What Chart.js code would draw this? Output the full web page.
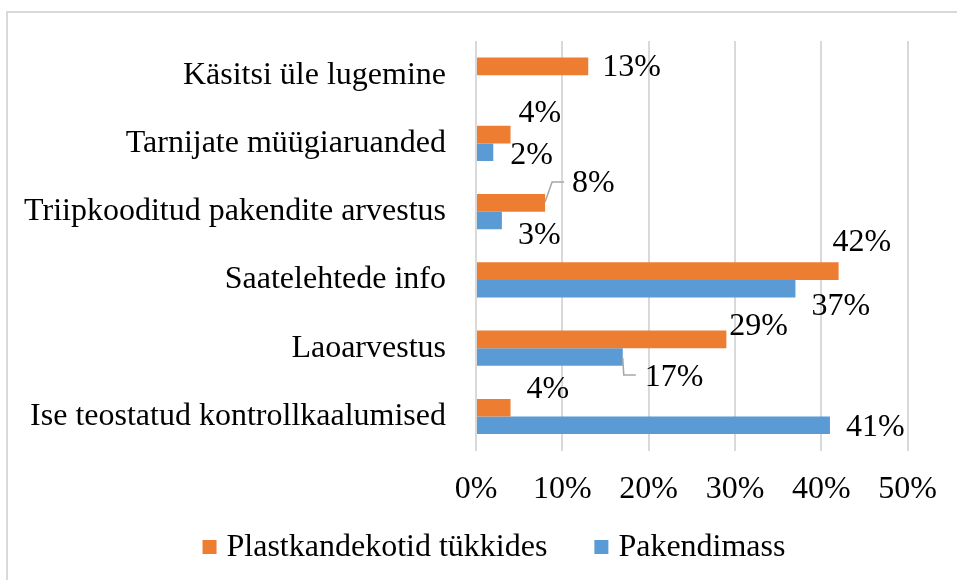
<!DOCTYPE html>
<html>
<head>
<meta charset="utf-8">
<script src="https://cdn.jsdelivr.net/npm/chart.js@4/dist/chart.umd.min.js"></script>
<style>
  html, body { margin: 0; padding: 0; background: #fff; }
  #wrap { position: relative; width: 957px; height: 580px; overflow: hidden; }
  #frame { position: absolute; left: 6px; top: 11px; width: 1000px; height: 700px; border: 2px solid #d9d9d9; }
  #chart { position: absolute; left: 0; top: 0; }
</style>
</head>
<body>
<div id="wrap">
  <div id="frame"></div>
  <canvas id="chart" width="957" height="580"></canvas>
</div>
<script>
// data
const categories = [
  'Käsitsi üle lugemine',
  'Tarnijate müügiaruanded',
  'Triipkooditud pakendite arvestus',
  'Saatelehtede info',
  'Laoarvestus',
  'Ise teostatud kontrollkaalumised'
];
const seriesNames = ['Plastkandekotid tükkides', 'Pakendimass'];
const plastValues = [13, 4, 8, 42, 29, 4];
const massValues = [null, 2, 3, 37, 17, 41];
const xTicks = [0, 10, 20, 30, 40, 50];

const FONT = "'Liberation Serif', 'Times New Roman', serif";

// label placement relative to bar end (like Excel's dragged labels)
const labelOffsets = [
  [[14, 1], [8, -21], [27, -19], [-6, -29], [3, -13], [16, -18]],
  [null, [17, 3], [16, 15], [16, 18], [22, 21], [16, 2]]
];
const leaderLines = {
  '0-2': [[0, -1], [7, -21], [19, -21]],
  '1-4': [[0, 1], [1, 18], [13, 18]]
};

const barLabels = {
  id: 'barLabels',
  afterDatasetsDraw(chart) {
    const ctx = chart.ctx;
    ctx.save();
    ctx.font = '32px ' + FONT;
    ctx.fillStyle = '#000';
    ctx.textAlign = 'left';
    ctx.textBaseline = 'middle';
    chart.data.datasets.forEach((ds, di) => {
      const meta = chart.getDatasetMeta(di);
      meta.data.forEach((bar, i) => {
        const v = ds.data[i];
        if (v == null) return;
        const off = labelOffsets[di][i] || [10, 0];
        const line = leaderLines[di + '-' + i];
        if (line) {
          ctx.strokeStyle = '#a6a6a6';
          ctx.lineWidth = 1.5;
          ctx.beginPath();
          line.forEach((p, k) => {
            const px = bar.x + p[0], py = bar.y + p[1];
            k ? ctx.lineTo(px, py) : ctx.moveTo(px, py);
          });
          ctx.stroke();
        }
        ctx.fillText(v + '%', bar.x + off[0], bar.y + off[1]);
      });
    });
    ctx.restore();
  }
};

// legend drawn by hand so the spacing matches the Excel one
const bottomLegend = {
  id: 'bottomLegend',
  afterDraw(chart) {
    const ctx = chart.ctx;
    const box = 14, gap = 10, between = 47, cy = 547;
    ctx.save();
    ctx.font = '32px ' + FONT;
    const items = chart.data.datasets.map(ds => ({ text: ds.label, color: ds.backgroundColor, w: ctx.measureText(ds.label).width }));
    const total = items.reduce((s, it) => s + box + gap + it.w, 0) + between * (items.length - 1);
    let x = 494 - total / 2;
    ctx.textBaseline = 'middle';
    ctx.textAlign = 'left';
    items.forEach(it => {
      ctx.fillStyle = it.color;
      ctx.fillRect(x, cy - box / 2, box, box);
      x += box + gap;
      ctx.fillStyle = '#000';
      ctx.fillText(it.text, x, cy + 1);
      x += it.w + between;
    });
    ctx.restore();
  }
};

new Chart(document.getElementById('chart'), {
  type: 'bar',
  data: {
    labels: categories,
    datasets: [
      { label: seriesNames[0], data: plastValues, backgroundColor: '#ed7d31' },
      { label: seriesNames[1], data: massValues, backgroundColor: '#5b9bd5' }
    ]
  },
  options: {
    indexAxis: 'y',
    responsive: false,
    animation: false,
    devicePixelRatio: 1,
    categoryPercentage: 0.515,
    barPercentage: 1,
    layout: { padding: { left: 0, right: 48, top: 41, bottom: 51 } },
    scales: {
      x: {
        min: xTicks[0],
        max: xTicks[xTicks.length - 1],
        afterBuildTicks: s => { s.ticks = xTicks.map(v => ({ value: v })); },
        ticks: { callback: v => v + '%', color: '#000', padding: 20, font: { family: FONT, size: 32 }, maxRotation: 0 },
        grid: { color: '#d9d9d9', lineWidth: 2, drawTicks: false },
        border: { display: false }
      },
      y: {
        afterFit: s => { s.width = 476; s.paddingTop = 0; s.paddingBottom = 0; },
        ticks: { color: '#000', padding: 30, font: { family: FONT, size: 32 } },
        grid: { display: false, drawTicks: false },
        border: { display: false }
      }
    },
    plugins: {
      tooltip: { enabled: false },
      legend: { display: false }
    }
  },
  plugins: [barLabels, bottomLegend]
});
</script>
</body>
</html>
